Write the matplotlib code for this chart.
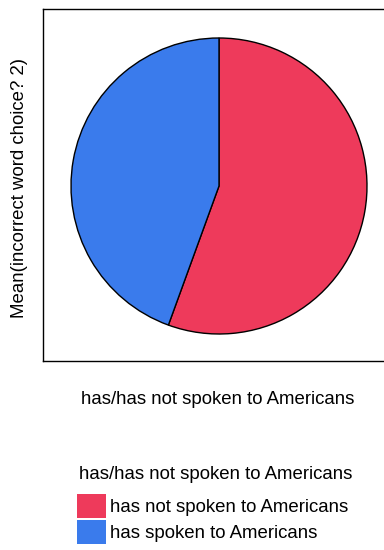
import matplotlib
matplotlib.use("Agg")
import matplotlib.pyplot as plt
from matplotlib.legend_handler import HandlerPatch
from matplotlib.patches import Wedge

plt.rcParams['font.family'] = ['Liberation Sans', 'DejaVu Sans']

groups = ['has not spoken to Americans', 'has spoken to Americans']
means = [1.25, 1.00]
colors = ['#ee3a5b', '#3a7bec']
group_var = 'has/has not spoken to Americans'
y_title = 'Mean(incorrect word choice? 2)'

W, H = 384, 550
fs = 13.4
fig = plt.figure(figsize=(W / 100, H / 100), dpi=100)

# axes box in pixel terms, data units == pixels so the pie stays round
left, right, top, bottom = 43, 386, 9, 361
ax = fig.add_axes([left / W, 1 - bottom / H, (right - left) / W, (bottom - top) / H])
wedges, _ = ax.pie(means, colors=colors, startangle=90, counterclock=False,
                   center=(219, H - 186), radius=148, frame=True,
                   wedgeprops=dict(edgecolor='black', linewidth=1.0))
ax.set_aspect('auto')
ax.set_xlim(left, right)
ax.set_ylim(H - bottom, H - top)
ax.set_xticks([])
ax.set_yticks([])
for s in ax.spines.values():
    s.set_linewidth(1.0)

fig.text(20 / W, 1 - 188 / H, y_title, rotation=90,
         ha='center', va='center', fontsize=fs)
fig.text(81 / W, 1 - 404 / H, group_var, ha='left', va='baseline', fontsize=fs)

# legend title + entries
fig.text(79 / W, 1 - 479 / H, group_var, ha='left', va='baseline', fontsize=fs)
leg = fig.legend(wedges, groups, loc='upper left',
                 bbox_to_anchor=(77 / W, 1 - 494 / H),
                 frameon=False, fontsize=fs,
                 handlelength=1.56, handleheight=1.607, handletextpad=0.19,
                 labelspacing=0.107, borderaxespad=0, borderpad=0,
                 handler_map={Wedge: HandlerPatch(xpad=0, ypad=0)})
for h in leg.legend_handles:
    h.set_edgecolor('none')

fig.savefig('out.png', dpi=100)
